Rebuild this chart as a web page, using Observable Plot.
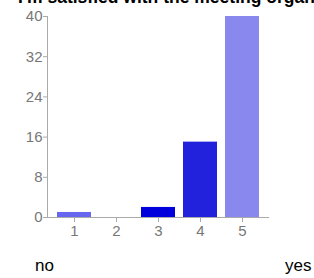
<!DOCTYPE html>
<html>
<head>
<meta charset="utf-8">
<script src="https://cdn.jsdelivr.net/npm/d3@7"></script>
<script src="https://cdn.jsdelivr.net/npm/@observablehq/plot@0.6"></script>
<style>
  html, body { margin: 0; padding: 0; background: #fff; }
  #wrap { position: relative; width: 314px; height: 278px; overflow: hidden; font-family: Arial, "Liberation Sans", sans-serif; }
  #title { position: absolute; left: 18px; top: -13px; font-weight: bold; font-size: 17.5px; line-height: 20px; color: #000; white-space: nowrap; }
  #chart { position: absolute; left: 0; top: 0; }
  .lab { position: absolute; top: 256px; font-size: 17px; line-height: 20px; color: #000; white-space: nowrap; }
</style>
</head>
<body>
<div id="wrap">
  <div id="chart"></div>
  <div id="title">I'm satisfied with the meeting organization</div>
  <div class="lab" style="left:35px">no</div>
  <div class="lab" style="left:285px">yes</div>
</div>
<script>
const categories = ["1", "2", "3", "4", "5"];
const counts = [1, 0, 2, 15, 40];
const barColors = ["#6666ee", "#4444dd", "#0000dd", "#2222dd", "#8888ee"];
const yTicks = [0, 8, 16, 24, 32, 40];

const data = categories.map((c, i) => ({cat: c, n: counts[i], color: barColors[i]}));

const chart = Plot.plot({
  width: 314,
  height: 245,
  marginLeft: 47,
  marginRight: 45,
  marginTop: 16,
  marginBottom: 28,
  style: {fontFamily: "Arial, 'Liberation Sans', sans-serif", fontSize: "15px", background: "transparent"},
  x: {domain: categories, padding: 0.18, label: null},
  y: {domain: [0, 40], label: null},
  marks: [
    Plot.barY(data, {x: "cat", y: "n", fill: "color"}),
    Plot.frame({anchor: "left", stroke: "#aaa"}),
    Plot.ruleY([0], {stroke: "#aaa"}),
    Plot.axisY(yTicks, {tickSize: 4, tickPadding: 1, stroke: "#aaa", fill: "#777", label: null}),
    Plot.axisX({tickSize: 5, tickPadding: 3, stroke: "#aaa", fill: "#777", label: null})
  ]
});
document.getElementById("chart").appendChild(chart);
</script>
</body>
</html>
